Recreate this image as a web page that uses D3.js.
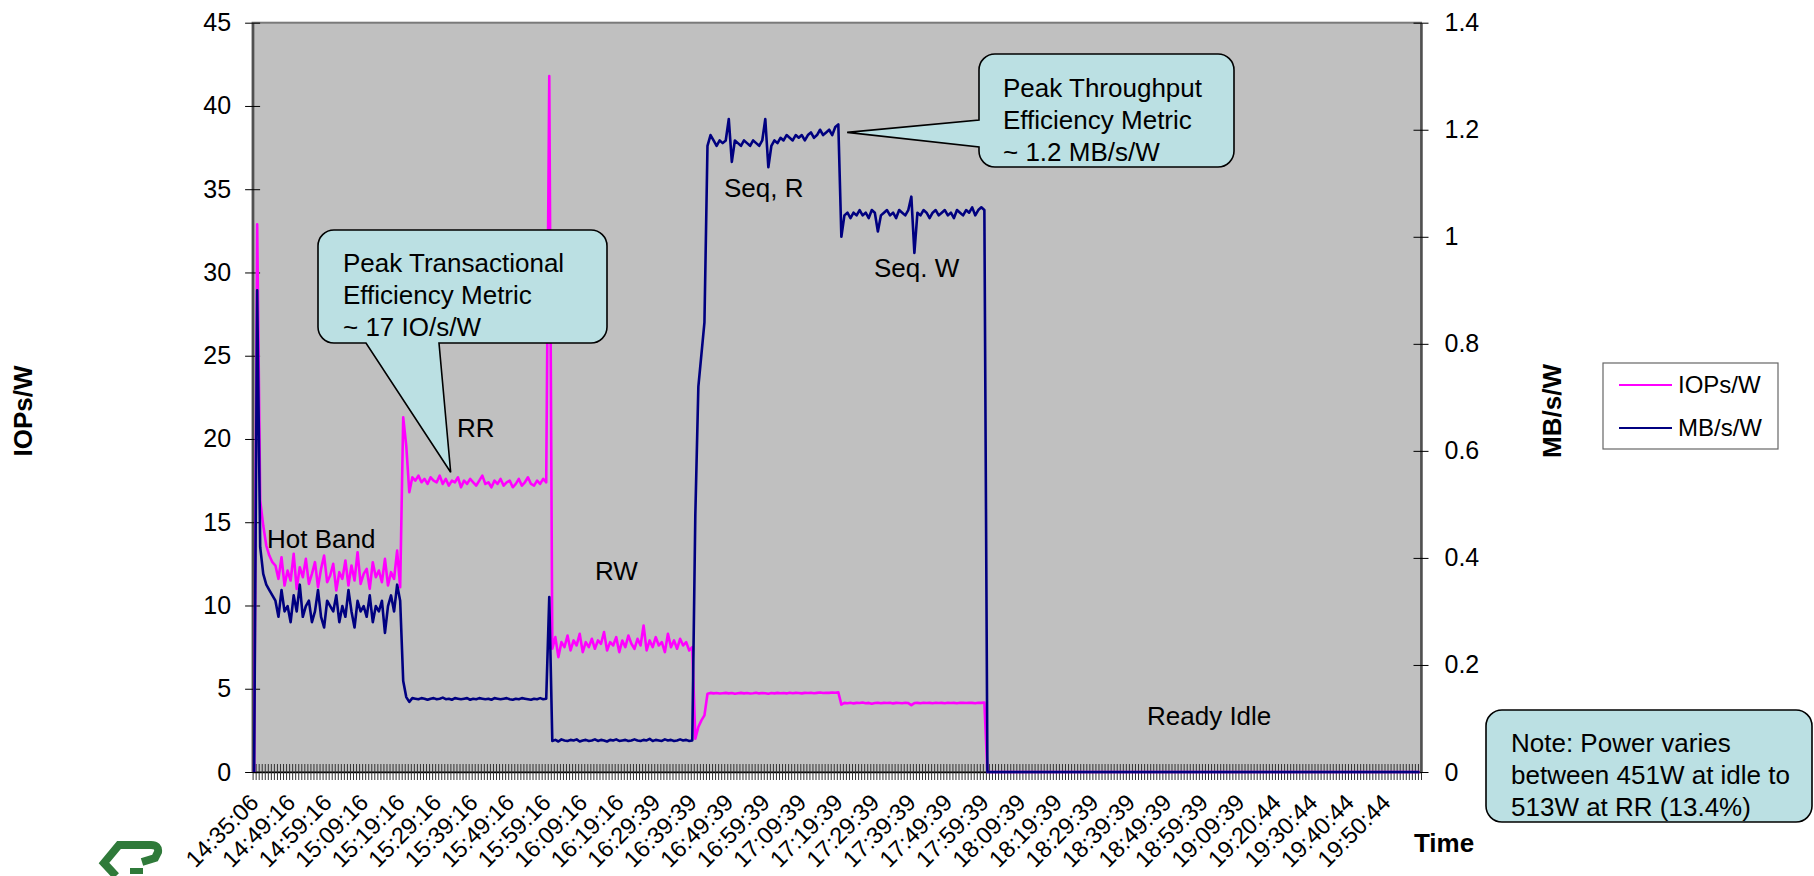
<!DOCTYPE html>
<html>
<head>
<meta charset="utf-8">
<script src="https://cdn.jsdelivr.net/npm/d3@7"></script>
<style>
  body { margin: 0; background: #fff; }
  text { font-family: "Liberation Sans", Arial, sans-serif; fill: #000; }
</style>
</head>
<body>
<script>
// category labels, one every 12 samples
var timeLabels = ['14:35:06', '14:49:16', '14:59:16', '15:09:16', '15:19:16', '15:29:16', '15:39:16', '15:49:16',
  '15:59:16', '16:09:16', '16:19:16', '16:29:39', '16:39:39', '16:49:39', '16:59:39', '17:09:39',
  '17:19:39', '17:29:39', '17:39:39', '17:49:39', '17:59:39', '18:09:39', '18:19:39', '18:29:39',
  '18:39:39', '18:49:39', '18:59:39', '19:09:39', '19:20:44', '19:30:44', '19:40:44', '19:50:44'];
var labelEvery = 12;

var iopsTicks = [0, 5, 10, 15, 20, 25, 30, 35, 40, 45];
var mbTicks = [0, 0.2, 0.4, 0.6, 0.8, 1, 1.2, 1.4];

// IOPs/W, by test phase
var iopsStart = [0, 32.9, 16.3, 14.8, 13.6, 13.0, 12.6];
var iopsHotBand = [12.4, 11.6, 12.9, 11.2, 12.1, 11.5, 13.1, 11.0, 12.3, 11.7,
  12.8, 11.3, 11.9, 12.6, 11.1, 12.2, 13.0, 11.4, 11.8, 12.5,
  10.9, 12.0, 11.6, 12.7, 11.2, 12.4, 11.5, 13.2, 11.3, 11.9,
  12.2, 11.0, 12.6, 11.7, 12.1, 11.4, 12.8, 11.2, 12.0, 11.6,
  13.3, 11.1];
var iopsRR = [21.3, 19.6, 16.8, 17.7, 17.5, 17.8, 17.4, 17.6, 17.3, 17.7, 17.5, 17.4,
  17.8, 17.3, 17.6, 17.2, 17.5, 17.4, 17.7, 17.1, 17.5, 17.3,
  17.6, 17.4, 17.2, 17.5, 17.8, 17.3, 17.4, 17.1, 17.5, 17.3,
  17.6, 17.2, 17.4, 17.5, 17.1, 17.3, 17.6, 17.2, 17.4, 17.7,
  17.3, 17.2, 17.5, 17.3, 17.6, 17.4];
var iopsRW = [41.8, 7.4, 8.1, 6.9, 7.8, 7.5, 8.2, 7.3, 7.9, 7.6, 8.3,
  7.2, 7.8, 7.5, 8.0, 7.4, 7.9, 7.7, 8.4, 7.3, 7.8,
  7.6, 8.1, 7.2, 7.9, 7.5, 8.2, 7.7, 7.4, 8.0, 7.6,
  8.8, 7.3, 7.9, 7.5, 8.1, 7.6, 7.8, 7.2, 8.3, 7.5,
  7.9, 7.4, 8.0, 7.6, 7.8, 7.3, 7.5];
var iopsSeqR = [2.0, 2.7, 3.1, 3.4, 4.70, 4.75, 4.72, 4.74, 4.71, 4.73, 4.75, 4.72, 4.74, 4.70,
  4.73, 4.75, 4.72, 4.74, 4.71, 4.73, 4.76, 4.72, 4.74, 4.73,
  4.70, 4.74, 4.72, 4.75, 4.73, 4.74, 4.72, 4.76, 4.73, 4.75,
  4.74, 4.72, 4.75, 4.74, 4.76, 4.73, 4.75, 4.77, 4.74, 4.76,
  4.75, 4.77, 4.76, 4.78];
var iopsSeqW = [4.05, 4.15, 4.13, 4.16, 4.12, 4.15, 4.14, 4.17, 4.13, 4.15,
  4.10, 4.14, 4.16, 4.13, 4.15, 4.14, 4.16, 4.12, 4.15, 4.14,
  4.13, 4.16, 4.14, 4.02, 4.14, 4.15, 4.13, 4.16, 4.14, 4.15,
  4.13, 4.16, 4.14, 4.15, 4.13, 4.16, 4.14, 4.15, 4.13, 4.16,
  4.15, 4.14, 4.16, 4.15, 4.13, 4.16, 4.15, 4.17];

// MB/s/W, by test phase
var mbStart = [0, 0.90, 0.42, 0.37, 0.35, 0.34, 0.33];
var mbHotBand = [0.32, 0.29, 0.34, 0.30, 0.31, 0.28, 0.33, 0.30, 0.35, 0.29,
  0.31, 0.32, 0.28, 0.30, 0.34, 0.29, 0.27, 0.32, 0.31, 0.30,
  0.33, 0.28, 0.31, 0.29, 0.34, 0.30, 0.27, 0.32, 0.30, 0.31,
  0.29, 0.33, 0.28, 0.31, 0.30, 0.32, 0.26, 0.31, 0.33, 0.30,
  0.35, 0.32];
var mbRR = [0.17, 0.14, 0.131, 0.138, 0.137, 0.136, 0.138, 0.137, 0.135, 0.137, 0.138, 0.136,
  0.137, 0.139, 0.136, 0.137, 0.135, 0.138, 0.137, 0.136, 0.137, 0.138,
  0.135, 0.137, 0.136, 0.138, 0.137, 0.136, 0.137, 0.135, 0.138, 0.137,
  0.136, 0.137, 0.138, 0.136, 0.135, 0.137, 0.136, 0.138, 0.137, 0.136,
  0.135, 0.137, 0.136, 0.138, 0.136, 0.137];
var mbRW = [0.327, 0.058, 0.060, 0.057, 0.061, 0.059, 0.058, 0.060, 0.059, 0.061, 0.057,
  0.059, 0.060, 0.058, 0.059, 0.061, 0.058, 0.060, 0.059, 0.057, 0.060,
  0.059, 0.061, 0.058, 0.059, 0.060, 0.058, 0.059, 0.061, 0.059, 0.058,
  0.060, 0.059, 0.062, 0.058, 0.060, 0.059, 0.058, 0.061, 0.059, 0.060,
  0.058, 0.059, 0.061, 0.059, 0.060, 0.058, 0.059];
var mbSeqR = [0.48, 0.72, 0.78, 0.84, 1.17, 1.19, 1.18, 1.17, 1.18, 1.175, 1.18, 1.22, 1.14, 1.18,
  1.175, 1.17, 1.18, 1.175, 1.17, 1.18, 1.175, 1.17, 1.18, 1.22,
  1.13, 1.17, 1.18, 1.175, 1.185, 1.18, 1.19, 1.185, 1.18, 1.19,
  1.185, 1.19, 1.18, 1.19, 1.195, 1.185, 1.19, 1.2, 1.19, 1.195,
  1.2, 1.19, 1.205, 1.21];
var mbSeqW = [1.00, 1.04, 1.045, 1.035, 1.045, 1.04, 1.05, 1.04, 1.045, 1.035,
  1.05, 1.045, 1.01, 1.04, 1.045, 1.05, 1.04, 1.045, 1.035, 1.05,
  1.045, 1.04, 1.05, 1.075, 0.97, 1.045, 1.04, 1.05, 1.045, 1.035,
  1.045, 1.05, 1.04, 1.045, 1.05, 1.04, 1.045, 1.035, 1.05, 1.045,
  1.04, 1.05, 1.045, 1.055, 1.04, 1.05, 1.055, 1.05];

// ready idle: both series sit on zero
var idleLevel = [0, 0, 0, 0, 0, 0, 0, 0, 0, 0, 0, 0, 0, 0, 0, 0, 0, 0, 0, 0,
  0, 0, 0, 0, 0, 0, 0, 0, 0, 0, 0, 0, 0, 0, 0, 0, 0, 0, 0, 0,
  0, 0, 0, 0, 0, 0, 0, 0, 0, 0, 0, 0, 0, 0, 0, 0, 0, 0, 0, 0,
  0, 0, 0, 0, 0, 0, 0, 0, 0, 0, 0, 0, 0, 0, 0, 0, 0, 0, 0, 0,
  0, 0, 0, 0, 0, 0, 0, 0, 0, 0, 0, 0, 0, 0, 0, 0, 0, 0, 0, 0,
  0, 0, 0, 0, 0, 0, 0, 0, 0, 0, 0, 0, 0, 0, 0, 0, 0, 0, 0, 0,
  0, 0, 0, 0, 0, 0, 0, 0, 0, 0, 0, 0, 0, 0, 0, 0, 0, 0, 0, 0,
  0, 0, 0];

var iopsPerWatt = [].concat(iopsStart, iopsHotBand, iopsRR, iopsRW, iopsSeqR, iopsSeqW, idleLevel);
var mbPerWatt = [].concat(mbStart, mbHotBand, mbRR, mbRW, mbSeqR, mbSeqW, idleLevel);

var seriesInfo = [
  { label: 'IOPs/W', color: '#FF00FF' },
  { label: 'MB/s/W', color: '#000080' }
];

var W = 1814, H = 876;
var plot = { left: 252.6, right: 1421, top: 22.7, bottom: 772 };
var nCat = iopsPerWatt.length;

var svg = d3.select('body').append('svg')
  .attr('width', W)
  .attr('height', H);

var x = d3.scaleLinear().domain([0, nCat]).range([plot.left, plot.right]);
var yIops = d3.scaleLinear().domain([0, 45]).range([plot.bottom, plot.top]);
var yMb = d3.scaleLinear().domain([0, 1.4]).range([plot.bottom, plot.top]);

// plot area
svg.append('rect')
  .attr('x', plot.left)
  .attr('y', plot.top)
  .attr('width', plot.right - plot.left)
  .attr('height', plot.bottom - plot.top)
  .style('fill', '#C0C0C0')
  .style('stroke', '#7a7a7a')
  .style('stroke-width', 2);

// category tick marks (crossing the axis)
var xAxis = svg.append('g')
  .attr('transform', 'translate(0,' + plot.bottom + ')')
  .call(d3.axisBottom(x).tickValues(d3.range(nCat + 1)).tickSize(8).tickSizeOuter(0).tickFormat(''));
xAxis.selectAll('.tick line').attr('y1', -8).style('stroke', '#333').style('stroke-width', 1);
xAxis.select('.domain').style('stroke', '#000').style('stroke-width', 1.5);

// time labels
svg.append('g').selectAll('text')
  .data(timeLabels)
  .enter()
  .append('text')
  .attr('transform', function (d, i) {
    return 'translate(' + (x(i * labelEvery + 0.5) + 6) + ',804) rotate(-45)';
  })
  .attr('text-anchor', 'end')
  .style('font-size', '23.5px')
  .text(function (d) { return d; });

// left axis
var leftAxis = svg.append('g')
  .attr('transform', 'translate(' + plot.left + ',0)')
  .call(d3.axisLeft(yIops).tickValues(iopsTicks).tickSize(7.5).tickSizeOuter(0).tickPadding(14));
leftAxis.selectAll('.tick line').attr('x1', 7.5).style('stroke', '#000');
leftAxis.select('.domain').style('stroke', '#505050').style('stroke-width', 2.5);
leftAxis.selectAll('.tick text').style('font-size', '25px').style('font-family', '"Liberation Sans", Arial, sans-serif').style('fill', '#000');

// right axis
var rightAxis = svg.append('g')
  .attr('transform', 'translate(' + plot.right + ',0)')
  .call(d3.axisRight(yMb).tickValues(mbTicks).tickSize(7.5).tickSizeOuter(0).tickPadding(16)
    .tickFormat(function (d) { return String(d); }));
rightAxis.selectAll('.tick line').attr('x1', -7.5).style('stroke', '#000');
rightAxis.select('.domain').style('stroke', '#505050').style('stroke-width', 2.5);
rightAxis.selectAll('.tick text').style('font-size', '25px').style('font-family', '"Liberation Sans", Arial, sans-serif').style('fill', '#000');

// series lines
var iopsLine = d3.line()
  .x(function (d, i) { return x(i + 0.5); })
  .y(function (d) { return yIops(d); });
var mbLine = d3.line()
  .x(function (d, i) { return x(i + 0.5); })
  .y(function (d) { return yMb(d); });

svg.append('path')
  .datum(iopsPerWatt)
  .attr('d', iopsLine)
  .style('fill', 'none')
  .style('stroke', seriesInfo[0].color)
  .style('stroke-width', 2.6)
  .style('stroke-linejoin', 'round');

svg.append('path')
  .datum(mbPerWatt)
  .attr('d', mbLine)
  .style('fill', 'none')
  .style('stroke', seriesInfo[1].color)
  .style('stroke-width', 2.6)
  .style('stroke-linejoin', 'round');

// axis titles
svg.append('text')
  .attr('transform', 'translate(23,411) rotate(-90)')
  .attr('text-anchor', 'middle')
  .attr('dy', '0.35em')
  .style('font-size', '26px')
  .style('font-weight', 'bold')
  .text('IOPs/W');

svg.append('text')
  .attr('transform', 'translate(1552,411) rotate(-90)')
  .attr('text-anchor', 'middle')
  .attr('dy', '0.35em')
  .style('font-size', '26px')
  .style('font-weight', 'bold')
  .text('MB/s/W');

svg.append('text')
  .attr('x', 1444)
  .attr('y', 843)
  .attr('text-anchor', 'middle')
  .attr('dy', '0.35em')
  .style('font-size', '26px')
  .style('font-weight', 'bold')
  .text('Time');

// phase labels
var phaseLabels = [
  { text: 'Hot Band', x: 267, y: 548 },
  { text: 'RR', x: 457, y: 437 },
  { text: 'RW', x: 595, y: 580 },
  { text: 'Seq, R', x: 724, y: 197 },
  { text: 'Seq. W', x: 874, y: 277 },
  { text: 'Ready Idle', x: 1147, y: 725 }
];
svg.append('g').selectAll('text')
  .data(phaseLabels)
  .enter()
  .append('text')
  .attr('x', function (d) { return d.x; })
  .attr('y', function (d) { return d.y; })
  .style('font-size', '26px')
  .text(function (d) { return d.text; });

// callouts
function calloutPath(b, tail) {
  var p = d3.path(), r = b.r;
  p.moveTo(b.x0 + r, b.y0);
  p.lineTo(b.x1 - r, b.y0);
  p.arcTo(b.x1, b.y0, b.x1, b.y0 + r, r);
  p.lineTo(b.x1, b.y1 - r);
  p.arcTo(b.x1, b.y1, b.x1 - r, b.y1, r);
  if (tail && tail.side === 'bottom') {
    p.lineTo(tail.b, b.y1);
    p.lineTo(tail.tx, tail.ty);
    p.lineTo(tail.a, b.y1);
  }
  p.lineTo(b.x0 + r, b.y1);
  p.arcTo(b.x0, b.y1, b.x0, b.y1 - r, r);
  if (tail && tail.side === 'left') {
    p.lineTo(b.x0, tail.b);
    p.lineTo(tail.tx, tail.ty);
    p.lineTo(b.x0, tail.a);
  }
  p.lineTo(b.x0, b.y0 + r);
  p.arcTo(b.x0, b.y0, b.x0 + r, b.y0, r);
  p.closePath();
  return p.toString();
}

var callouts = [
  {
    box: { x0: 318, y0: 230, x1: 607, y1: 343, r: 16 },
    tail: { side: 'bottom', a: 366, b: 439, tx: x(65.1), ty: yIops(18.0) },
    lines: ['Peak Transactional', 'Efficiency Metric', '~ 17 IO/s/W'],
    tx: 343, ty: 272
  },
  {
    box: { x0: 979, y0: 54, x1: 1234, y1: 167, r: 16 },
    tail: { side: 'left', a: 120, b: 147, tx: x(195.4), ty: yMb(1.195) },
    lines: ['Peak Throughput', 'Efficiency Metric', '~ 1.2 MB/s/W'],
    tx: 1003, ty: 97
  },
  {
    box: { x0: 1486, y0: 710, x1: 1812, y1: 822, r: 16 },
    tail: null,
    lines: ['Note: Power varies', 'between 451W at idle to', '513W at RR (13.4%)'],
    tx: 1511, ty: 752
  }
];

callouts.forEach(function (c) {
  var g = svg.append('g');
  g.append('path')
    .attr('d', calloutPath(c.box, c.tail))
    .style('fill', '#BBE0E3')
    .style('stroke', '#000')
    .style('stroke-width', 1.6);
  var t = g.append('text')
    .attr('x', c.tx)
    .attr('y', c.ty)
    .style('font-size', '26px');
  c.lines.forEach(function (line, i) {
    t.append('tspan')
      .attr('x', c.tx)
      .attr('y', c.ty + i * 32)
      .text(line);
  });
});

// legend
var legend = svg.append('g').attr('class', 'legend');
legend.append('rect')
  .attr('x', 1603)
  .attr('y', 363)
  .attr('width', 175)
  .attr('height', 86)
  .style('fill', '#fff')
  .style('stroke', '#666')
  .style('stroke-width', 1.2);

legend.selectAll('g.legendItem')
  .data(seriesInfo)
  .enter()
  .append('g')
  .attr('class', 'legendItem')
  .each(function (d, i) {
    var g = d3.select(this);
    g.append('line')
      .attr('x1', 1619)
      .attr('x2', 1672)
      .attr('y1', 385 + i * 43)
      .attr('y2', 385 + i * 43)
      .style('stroke', d.color)
      .style('stroke-width', 2.2);
    g.append('text')
      .attr('x', 1678)
      .attr('y', 385 + i * 43)
      .attr('dy', '0.35em')
      .style('font-size', '24px')
      .text(d.label);
  });

// small green logo, bottom left
svg.append('path')
  .attr('d', 'M 116 876 L 104 863 L 119 845 L 151 845 Q 159 845 158 852 L 155 858 L 142 862')
  .style('fill', 'none')
  .style('stroke', '#2F7A3A')
  .style('stroke-width', 8)
  .style('stroke-linejoin', 'miter');
svg.append('rect')
  .attr('x', 130)
  .attr('y', 868)
  .attr('width', 13)
  .attr('height', 6)
  .style('fill', '#2F7A3A');
</script>
</body>
</html>
